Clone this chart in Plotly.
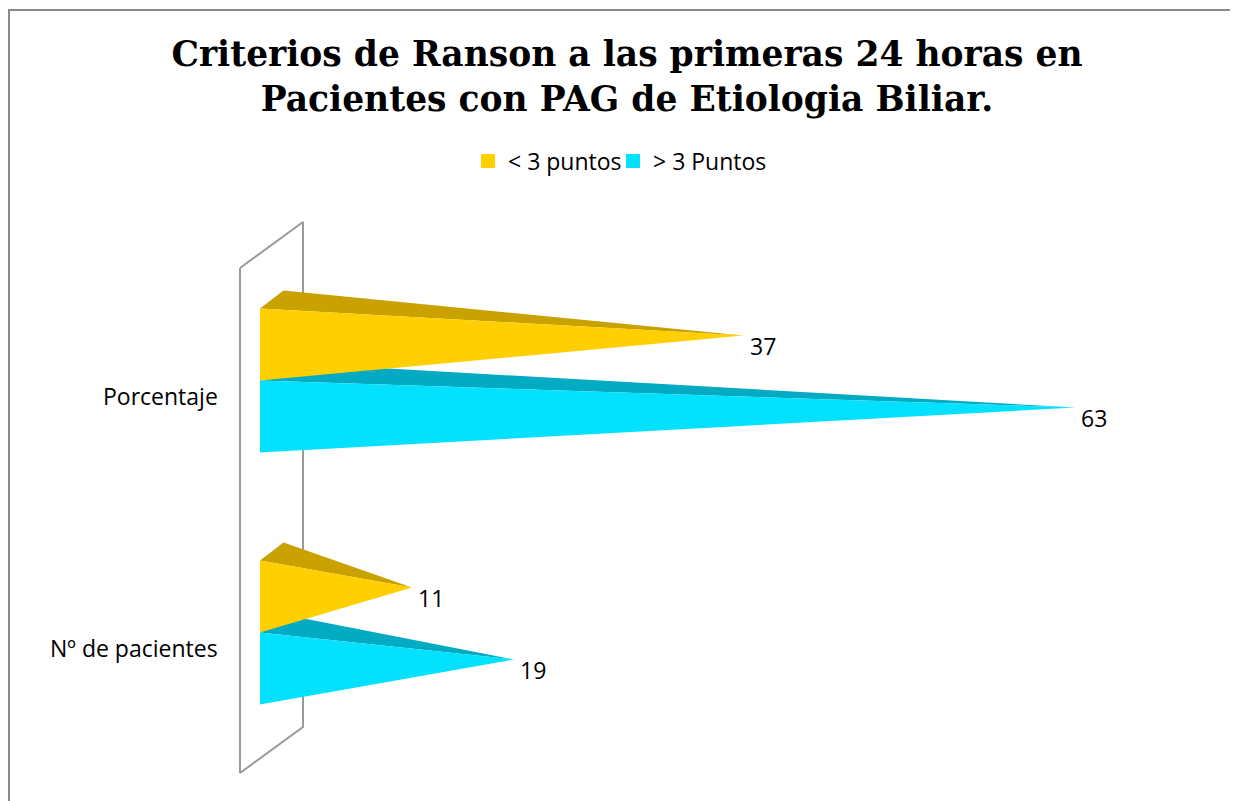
import plotly.graph_objects as go

# ---- data ----
categories = ["Porcentaje", "Nº de pacientes"]
series_names = ["< 3 puntos", "> 3 Puntos"]
menos_3 = [37, 11]
mas_3 = [63, 19]
title_text = "Criterios de Ranson a las primeras 24 horas en<br>Pacientes con PAG de Etiologia Biliar."

# ---- styling / geometry ----
OFF = 8                      # page body margin of the browser
W, H = 1238 - OFF, 801 - OFF
PX_PER_UNIT = 12.75          # horizontal scale
PX_PER_CAT = 252.0           # vertical distance between categories
X0_PX, Y0_PX = 260.0 - OFF, 380.5 - OFF  # pixel of value 0 / first category center

xmin = -X0_PX / PX_PER_UNIT
xmax = xmin + W / PX_PER_UNIT
ytop = -Y0_PX / PX_PER_CAT
ybot = ytop + H / PX_PER_CAT

BAR_H = 72 / PX_PER_CAT       # thickness of one series
DEPTH_X = 23.5 / PX_PER_UNIT  # 3D depth offset
DEPTH_Y = -18 / PX_PER_CAT

front_cols = ["#FFCF00", "#03E1FE"]
top_cols = ["#C9A200", "#02AAC2"]
FONT = "Open Sans"

# wall (axis back plane)
WALL_XF, WALL_XB = -20 / PX_PER_UNIT, 43 / PX_PER_UNIT
WALL_YF = (-0.4464, 1.5575)
WALL_SHIFT_Y = -46 / PX_PER_CAT

fig = go.Figure()

# wall
wx = [WALL_XF, WALL_XB, WALL_XB, WALL_XF, WALL_XF]
wy = [WALL_YF[0], WALL_YF[0] + WALL_SHIFT_Y, WALL_YF[1] + WALL_SHIFT_Y, WALL_YF[1], WALL_YF[0]]
fig.add_trace(go.Scatter(x=wx, y=wy, mode="lines", line=dict(color="#9a9a9a", width=2),
                         hoverinfo="skip", showlegend=False))

series_vals = [menos_3, mas_3]
annotations = []
# draw cyan first, then yellow (yellow front face covers cyan top face)
for ci, cat in enumerate(categories):
    for si in [1, 0]:
        v = series_vals[si][ci]
        if si == 0:
            yt, yb = ci - BAR_H, ci
        else:
            yt, yb = ci, ci + BAR_H
        ax = v + DEPTH_X / 2
        ay = (yt + yb) / 2 + DEPTH_Y / 2
        # top face
        fig.add_trace(go.Scatter(x=[0, DEPTH_X, ax, 0], y=[yt, yt + DEPTH_Y, ay, yt],
                                 fill="toself", fillcolor=top_cols[si], mode="lines",
                                 line=dict(width=0, color=top_cols[si]),
                                 hoverinfo="skip", showlegend=False))
        # front face
        fig.add_trace(go.Scatter(x=[0, 0, ax, 0], y=[yt, yb, ay, yt],
                                 fill="toself", fillcolor=front_cols[si], mode="lines",
                                 line=dict(width=0, color=front_cols[si]),
                                 hoverinfo="skip", showlegend=False))
        annotations.append(dict(x=ax, y=ay, xref="x", yref="y", text=str(v),
                                showarrow=False, xanchor="left", yanchor="middle",
                                xshift=4, yshift=-10,
                                font=dict(family=FONT, size=23, color="#000000")))
    annotations.append(dict(x=-40.5 / PX_PER_UNIT, y=ci + 15 / PX_PER_CAT, xref="x", yref="y",
                            text=cat, showarrow=False, xanchor="right", yanchor="middle",
                            font=dict(family=FONT, size=23, color="#000000")))

# legend entries
for si, name in enumerate(series_names):
    fig.add_trace(go.Scatter(x=[None], y=[None], mode="markers", name=name,
                             marker=dict(symbol="square", size=14, color=front_cols[si])))
# empty spacer entry so the last real legend label is not clipped
fig.add_trace(go.Scatter(x=[None], y=[None], mode="markers", name=" ",
                         marker=dict(size=1, color="rgba(0,0,0,0)"), hoverinfo="skip"))

fig.update_layout(
    width=W, height=H,
    margin=dict(l=0, r=0, t=0, b=0),
    paper_bgcolor="white", plot_bgcolor="white",
    title=dict(text=title_text, x=(627 - OFF) / W, xanchor="center", y=1 - 58 / H, yanchor="middle",
               font=dict(family="DejaVu Serif", size=34.5, color="#000000", weight="bold")),
    xaxis=dict(range=[xmin, xmax], visible=False, fixedrange=True),
    yaxis=dict(range=[ybot, ytop], visible=False, fixedrange=True),
    legend=dict(orientation="h", x=(468 - OFF) / W, xanchor="left", y=1 - (161 - OFF) / H,
                yanchor="middle", entrywidth=100, entrywidthmode="pixels",
                font=dict(family=FONT, size=23, color="#000000"),
                itemwidth=30, bgcolor="rgba(0,0,0,0)"),
    annotations=annotations,
    shapes=[dict(type="rect", xref="paper", yref="paper",
                 x0=1 / W, x1=1.05, y0=-0.05, y1=1 - 2 / H,
                 line=dict(color="#8a8a8a", width=2), fillcolor="rgba(0,0,0,0)", layer="below")],
)

fig.write_html("out.html")
